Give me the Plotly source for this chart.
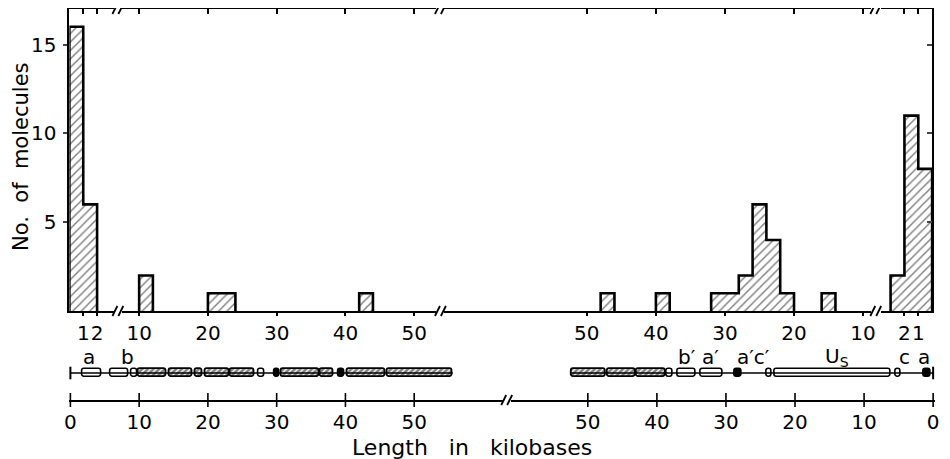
import plotly.graph_objects as go

# ---------------- data ----------------
# histogram bins measured from the left end of the molecules (kb)
left_bin_start = [0, 1, 10, 20, 22, 42]
left_bin_width = [1, 1, 2, 2, 2, 2]
left_counts = [16, 6, 2, 1, 1, 1]
# histogram bins measured from the right end of the molecules (kb)
right_bin_start = [0, 1, 2, 14, 20, 22, 24, 26, 28, 30, 38, 46]
right_bin_width = [1, 1, 1, 2, 2, 2, 2, 2, 2, 2, 2, 2]
right_counts = [8, 11, 2, 1, 1, 4, 6, 2, 1, 1, 1, 1]
near_end_limit = 3  # bins closer than this to an end sit on the expanded axis piece

near_ticks = [1, 2]
far_ticks = [10, 20, 30, 40, 50]
count_ticks = [5, 10, 15]
scale_ticks = [0, 10, 20, 30, 40, 50]

# physical map elements (kb from the respective end)
map_left_start = [1.7, 5.8, 8.8, 9.9, 14.4, 18.2, 19.6, 23.3, 27.4, 29.7, 30.7, 36.4, 39.0, 40.3, 46.1]
map_left_end = [4.5, 8.4, 9.7, 13.9, 17.8, 19.2, 23.1, 26.7, 28.2, 30.4, 36.2, 38.3, 39.8, 45.8, 55.6]
map_left_kind = ['open', 'open', 'open', 'hatch', 'hatch', 'hatch', 'hatch', 'hatch',
                 'open', 'solid', 'hatch', 'hatch', 'solid', 'hatch', 'hatch']
map_right_start = [47.4, 43.1, 38.8, 37.7, 34.4, 30.5, 27.7, 23.4, 6.2, 4.7, 0.4]
map_right_end = [52.4, 47.1, 43.0, 38.6, 37.0, 33.7, 28.7, 24.1, 22.9, 5.4, 1.4]
map_right_kind = ['hatch', 'hatch', 'hatch', 'open', 'open', 'open', 'solid', 'open', 'open', 'open', 'solid']
map_left_length = 55.6
map_right_length = 52.4

map_left_labels = ['a', 'b']
map_left_label_pos = [2.7, 8.3]
map_right_labels = ['b′', 'a′', 'a′c′', 'U<sub>S</sub>', 'c', 'a']
map_right_label_pos = [35.7, 32.3, 26.0, 13.9, 4.2, 1.3]

# ---------------- helpers ----------------
FONT = "DejaVu Sans"
OFF = 8            # the page places the figure 8 px from the window corner
W, H = 950 - OFF, 459 - OFF


def dx(p):
    return (p - OFF) / W


def dy(p):
    return 1 - (p - OFF) / H


def step_outline(starts, widths, counts):
    order = sorted(range(len(starts)), key=lambda i: starts[i])
    xs, ys = [], []
    prev_end = None
    for i in order:
        s, e, c = starts[i], starts[i] + widths[i], counts[i]
        if prev_end is None or abs(s - prev_end) > 1e-9:
            if prev_end is not None:
                xs += [prev_end, None]
                ys += [0, None]
            xs.append(s)
            ys.append(0)
        xs += [s, e]
        ys += [c, c]
        prev_end = e
    if prev_end is not None:
        xs.append(prev_end)
        ys.append(0)
    return xs, ys


def split(starts, widths, counts, near):
    idx = [i for i in range(len(starts)) if (starts[i] < near_end_limit) == near]
    return [starts[i] for i in idx], [widths[i] for i in idx], [counts[i] for i in idx]


# pixel geometry of the broken axes (window pixels)
NEAR_PX = 14.0
FAR_L_PX = 6.95
FAR_R_PX = 6.98
X0_L = 66.0
X0_R = 937.0
HIST_TOP, HIST_BOT = 9, 311
YMAX = 17

segA = (65, 110)
segB = (118, 436)
segC = (444, 875)
segD = (885, 937)
rangeA = [(segA[0] - 65) / NEAR_PX, (segA[1] - 65) / NEAR_PX]
rangeB = [(segB[0] - X0_L) / FAR_L_PX, (segB[1] - X0_L) / FAR_L_PX]
rangeC = [(X0_R - segC[0]) / FAR_R_PX, (X0_R - segC[1]) / FAR_R_PX]
rangeD = [(X0_R - segD[0]) / NEAR_PX, (X0_R - segD[1]) / NEAR_PX]

scaleL = (65, 503)
scaleR = (511, 940)
SX0_L, SX0_R = 66.0, 938.0
rangeSL = [(scaleL[0] - SX0_L) / FAR_L_PX, (scaleL[1] - SX0_L) / FAR_L_PX]
rangeSR = [(SX0_R - scaleR[0]) / FAR_R_PX, (SX0_R - scaleR[1]) / FAR_R_PX]
MAP_TOP, MAP_BOT = 340, 400
MAP_Y = (MAP_BOT - 373) / 6.0
BOX_H = 8 / 6.0
LABEL_Y = (MAP_BOT - 356.5) / 6.0

fig = go.Figure()

pattern = dict(shape='/', fgcolor='black', bgcolor='white', size=6, solidity=0.24)

for side, starts, widths, counts in (('L', left_bin_start, left_bin_width, left_counts),
                                     ('R', right_bin_start, right_bin_width, right_counts)):
    for near in (True, False):
        s, w, c = split(starts, widths, counts, near)
        if side == 'L':
            xa = 'x' if near else 'x2'
        else:
            xa = 'x4' if near else 'x3'
        fig.add_trace(go.Bar(
            x=[a + b / 2 for a, b in zip(s, w)], y=c, width=w,
            xaxis=xa, yaxis='y',
            marker=dict(color='white', line=dict(width=0), pattern=pattern),
            showlegend=False, hoverinfo='skip'))
        ox, oy = step_outline(s, w, c)
        fig.add_trace(go.Scatter(
            x=ox, y=oy, mode='lines', xaxis=xa, yaxis='y',
            line=dict(color='black', width=2.6), showlegend=False,
            hoverinfo='skip', connectgaps=False))

# invisible anchors so that the top frame axes and the right frame axis get drawn
for xa, rg in (('x7', rangeA), ('x8', rangeB), ('x9', rangeC), ('x10', rangeD)):
    fig.add_trace(go.Scatter(x=[sum(rg) / 2], y=[1], mode='markers', xaxis=xa, yaxis='y',
                             marker=dict(opacity=0), showlegend=False, hoverinfo='skip'))
fig.add_trace(go.Scatter(x=[sum(rangeD) / 2], y=[1], mode='markers', xaxis='x4', yaxis='y3',
                         marker=dict(opacity=0), showlegend=False, hoverinfo='skip'))

# ---------------- physical map ----------------
kind_style = {
    'open': dict(color='white', line=dict(color='black', width=1.6)),
    'solid': dict(color='black', line=dict(color='black', width=1.6)),
    'hatch': dict(color='white', line=dict(color='black', width=1.8),
                  pattern=dict(shape='/', fgcolor='black', bgcolor='white', size=4, solidity=0.65)),
}

for xa, starts, ends, kinds, length in (('x5', map_left_start, map_left_end, map_left_kind, map_left_length),
                                         ('x6', map_right_start, map_right_end, map_right_kind, map_right_length)):
    fig.add_trace(go.Scatter(x=[0, length], y=[MAP_Y, MAP_Y], mode='lines', xaxis=xa, yaxis='y2',
                             line=dict(color='black', width=1.5), showlegend=False, hoverinfo='skip'))
    fig.add_trace(go.Scatter(x=[0], y=[MAP_Y], mode='markers', xaxis=xa, yaxis='y2', cliponaxis=False,
                             marker=dict(symbol='line-ns', size=9, line=dict(color='black', width=2)),
                             showlegend=False, hoverinfo='skip'))
    for kind in ('open', 'solid', 'hatch'):
        idx = [i for i in range(len(starts)) if kinds[i] == kind]
        if not idx:
            continue
        fig.add_trace(go.Bar(
            orientation='h', base=[starts[i] for i in idx],
            x=[ends[i] - starts[i] for i in idx], y=[MAP_Y] * len(idx), width=BOX_H,
            xaxis=xa, yaxis='y2', marker=dict(cornerradius=3, **kind_style[kind]),
            showlegend=False, hoverinfo='skip'))
    # scale ticks crossing the scale line
    fig.add_trace(go.Scatter(x=scale_ticks, y=[0] * len(scale_ticks), mode='markers', xaxis=xa, yaxis='y2',
                             cliponaxis=False,
                             marker=dict(symbol='line-ns', size=10, line=dict(color='black', width=1.6)),
                             showlegend=False, hoverinfo='skip'))

axis_font = dict(family=FONT, size=20, color='black')
common_x = dict(showgrid=False, zeroline=False, showline=True, linecolor='black', linewidth=2,
                ticks='outside', ticklen=3, tickwidth=1.5, tickcolor='black', tickfont=axis_font,
                ticklabelstandoff=0, tickangle=0, fixedrange=True)
top_x = dict(showgrid=False, zeroline=False, showline=True, linecolor='black', linewidth=2,
             ticks='inside', ticklen=5, tickwidth=1.5, tickcolor='black', showticklabels=False,
             side='top', anchor='y', fixedrange=True)

layout = dict(
    width=W, height=H, margin=dict(l=0, r=0, t=0, b=0),
    paper_bgcolor='white', plot_bgcolor='white', barmode='overlay', bargap=0,
    showlegend=False, font=dict(family=FONT, color='black'),
    xaxis=dict(domain=[dx(segA[0]), dx(segA[1])], range=rangeA, anchor='y',
               tickvals=near_ticks, **common_x),
    xaxis2=dict(domain=[dx(segB[0]), dx(segB[1])], range=rangeB, anchor='y',
                tickvals=far_ticks, **common_x),
    xaxis3=dict(domain=[dx(segC[0]), dx(segC[1])], range=rangeC, anchor='y',
                tickvals=far_ticks, **common_x),
    xaxis4=dict(domain=[dx(segD[0]), dx(segD[1])], range=rangeD, anchor='y',
                tickvals=near_ticks, **common_x),
    xaxis7=dict(overlaying='x', range=rangeA, tickvals=near_ticks, **top_x),
    xaxis8=dict(overlaying='x2', range=rangeB, tickvals=far_ticks, **top_x),
    xaxis9=dict(overlaying='x3', range=rangeC, tickvals=far_ticks, **top_x),
    xaxis10=dict(overlaying='x4', range=rangeD, tickvals=near_ticks, **top_x),
    yaxis=dict(domain=[dy(HIST_BOT), dy(HIST_TOP)], range=[0, YMAX], anchor='x',
               tickvals=count_ticks, showgrid=False, zeroline=False, showline=True,
               linecolor='black', linewidth=2, ticks='outside', ticklen=4, tickwidth=1.5,
               tickfont=axis_font, ticklabelstandoff=3, fixedrange=True),
    yaxis3=dict(overlaying='y', side='right', anchor='x4', range=[0, YMAX], tickvals=count_ticks,
                showgrid=False, zeroline=False, showline=True, linecolor='black', linewidth=2,
                ticks='inside', ticklen=5, tickwidth=1.5, showticklabels=False, fixedrange=True),
    xaxis5=dict(domain=[dx(scaleL[0]), dx(scaleL[1])], range=rangeSL, anchor='y2',
                tickvals=scale_ticks, showgrid=False, zeroline=False, showline=True,
                linecolor='black', linewidth=1.6, ticks='outside', ticklen=3,
                tickcolor='rgba(0,0,0,0)', tickfont=axis_font, tickangle=0, fixedrange=True),
    xaxis6=dict(domain=[dx(scaleR[0]), dx(scaleR[1])], range=rangeSR, anchor='y2',
                tickvals=scale_ticks, showgrid=False, zeroline=False, showline=True,
                linecolor='black', linewidth=1.6, ticks='outside', ticklen=3,
                tickcolor='rgba(0,0,0,0)', tickfont=axis_font, tickangle=0, fixedrange=True),
    yaxis2=dict(domain=[dy(MAP_BOT), dy(MAP_TOP)], range=[0, 10], anchor='x5', visible=False,
                fixedrange=True),
)
fig.update_layout(**layout)


# axis break marks "//"
def break_mark(cx, cy):
    out = []
    for off in (-3, 3):
        out.append(dict(type='line', xref='paper', yref='paper',
                        x0=dx(cx + off - 2.5), y0=dy(cy + 5), x1=dx(cx + off + 2.5), y1=dy(cy - 5),
                        line=dict(color='black', width=1.8)))
    return out


shapes = []
for cx in ((segA[1] + segB[0]) / 2, (segB[1] + segC[0]) / 2, (segC[1] + segD[0]) / 2):
    shapes += break_mark(cx, HIST_BOT)
    shapes += break_mark(cx, HIST_TOP)
shapes += break_mark((scaleL[1] + scaleR[0]) / 2, MAP_BOT)
fig.update_layout(shapes=shapes)

ann = [
    dict(text='No.  of  molecules', x=dx(16), y=dy(157), xref='paper', yref='paper',
         xanchor='center', yanchor='middle',
         textangle=-90, showarrow=False, font=dict(family=FONT, size=21, color='black')),
    dict(text='Length   in   kilobases', x=dx(472), y=dy(447), xref='paper', yref='paper',
         xanchor='center', yanchor='middle',
         showarrow=False, font=dict(family=FONT, size=22, color='black')),
]
for t, p in zip(map_left_labels, map_left_label_pos):
    ann.append(dict(text=t, x=p, y=LABEL_Y, xref='x5', yref='y2', showarrow=False,
                    yanchor='middle', font=dict(family=FONT, size=20, color='black')))
for t, p in zip(map_right_labels, map_right_label_pos):
    ann.append(dict(text=t, x=p, y=LABEL_Y, xref='x6', yref='y2', showarrow=False,
                    yanchor='middle', font=dict(family=FONT, size=20, color='black')))
fig.update_layout(annotations=ann)

fig.write_html("out.html")
